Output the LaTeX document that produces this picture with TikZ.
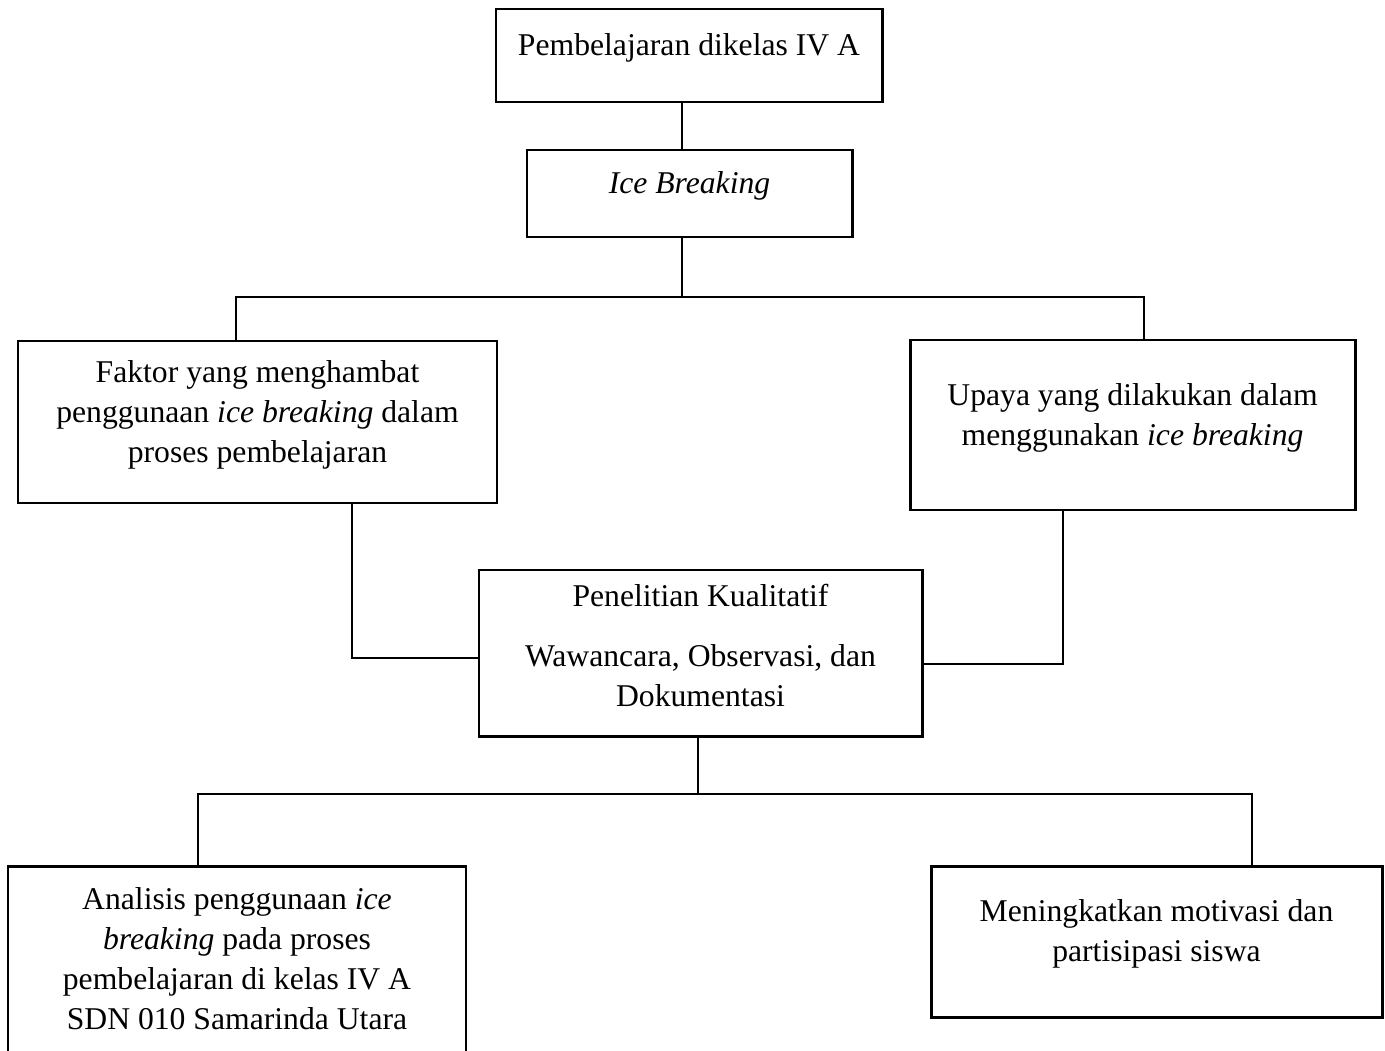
\documentclass[tikz,border=0pt]{standalone}
\usepackage{fontspec}
\setmainfont{Liberation Serif}
\newlength{\unitpx}
\setlength{\unitpx}{0.42pt}
% box text: width, height, text (sits a little above the middle)
\newcommand{\boxtext}[3]{\parbox[c][#2\unitpx][c]{#1\unitpx}{\centering #3\par\vspace{15\unitpx}}}
\tikzset{
    flowbox/.style={draw,line width=1.25pt,inner sep=0pt,font=\fontsize{13.3}{16.8}\selectfont},
    link/.style={draw,line width=0.6pt},
}

\begin{document}
\begin{tikzpicture}[x=0.42pt,y=-0.42pt]
    \useasboundingbox (0,0) rectangle (1385,1050);

    \node[flowbox] (kelas) at (689,55.5) {\boxtext{386}{93}{Pembelajaran dikelas IV A}};
    \node[flowbox] (ice) at (689.5,193.5) {\boxtext{325}{87}{\textit{Ice Breaking}}};
    \node[flowbox] (faktor) at (257.5,422) {\boxtext{479}{162}{Faktor yang menghambat\\ penggunaan \textit{ice breaking} dalam\\ proses pembelajaran}};
    \node[flowbox] (upaya) at (1132.5,425) {\boxtext{445}{170}{Upaya yang dilakukan dalam\\ menggunakan \textit{ice breaking}}};
    \node[flowbox] (metode) at (700.5,653) {\boxtext{443}{166}{Penelitian Kualitatif\\[8.4pt] Wawancara, Observasi, dan\\ Dokumentasi}};
    \node[flowbox] (analisis) at (237,966) {\boxtext{458}{200}{Analisis penggunaan \textit{ice}\\ \textit{breaking} pada proses\\ pembelajaran di kelas IV A\\ SDN 010 Samarinda Utara}};
    \node[flowbox] (hasil) at (1156.5,941.5) {\boxtext{451}{151}{Meningkatkan motivasi dan\\ partisipasi siswa}};

    \coordinate (j1) at (682,297);
    \coordinate (fk) at (236,297);
    \coordinate (up) at (1144,297);
    \coordinate (fb) at (352,658);
    \coordinate (ub) at (1063,664);
    \coordinate (j2) at (698,794);
    \coordinate (al) at (198,794);
    \coordinate (hs) at (1252,794);

    \path[link] (kelas.south -| j1) -- (ice.north -| j1);
    \path[link] (ice.south -| j1) -- (j1);
    \path[link] (faktor.north -| fk) -- (fk) -- (up) -- (upaya.north -| up);
    \path[link] (faktor.south -| fb) -- (fb) -- (fb -| metode.west);
    \path[link] (upaya.south -| ub) -- (ub) -- (ub -| metode.east);
    \path[link] (metode.south -| j2) -- (j2);
    \path[link] (analisis.north -| al) -- (al) -- (hs) -- (hasil.north -| hs);
\end{tikzpicture}
\end{document}
